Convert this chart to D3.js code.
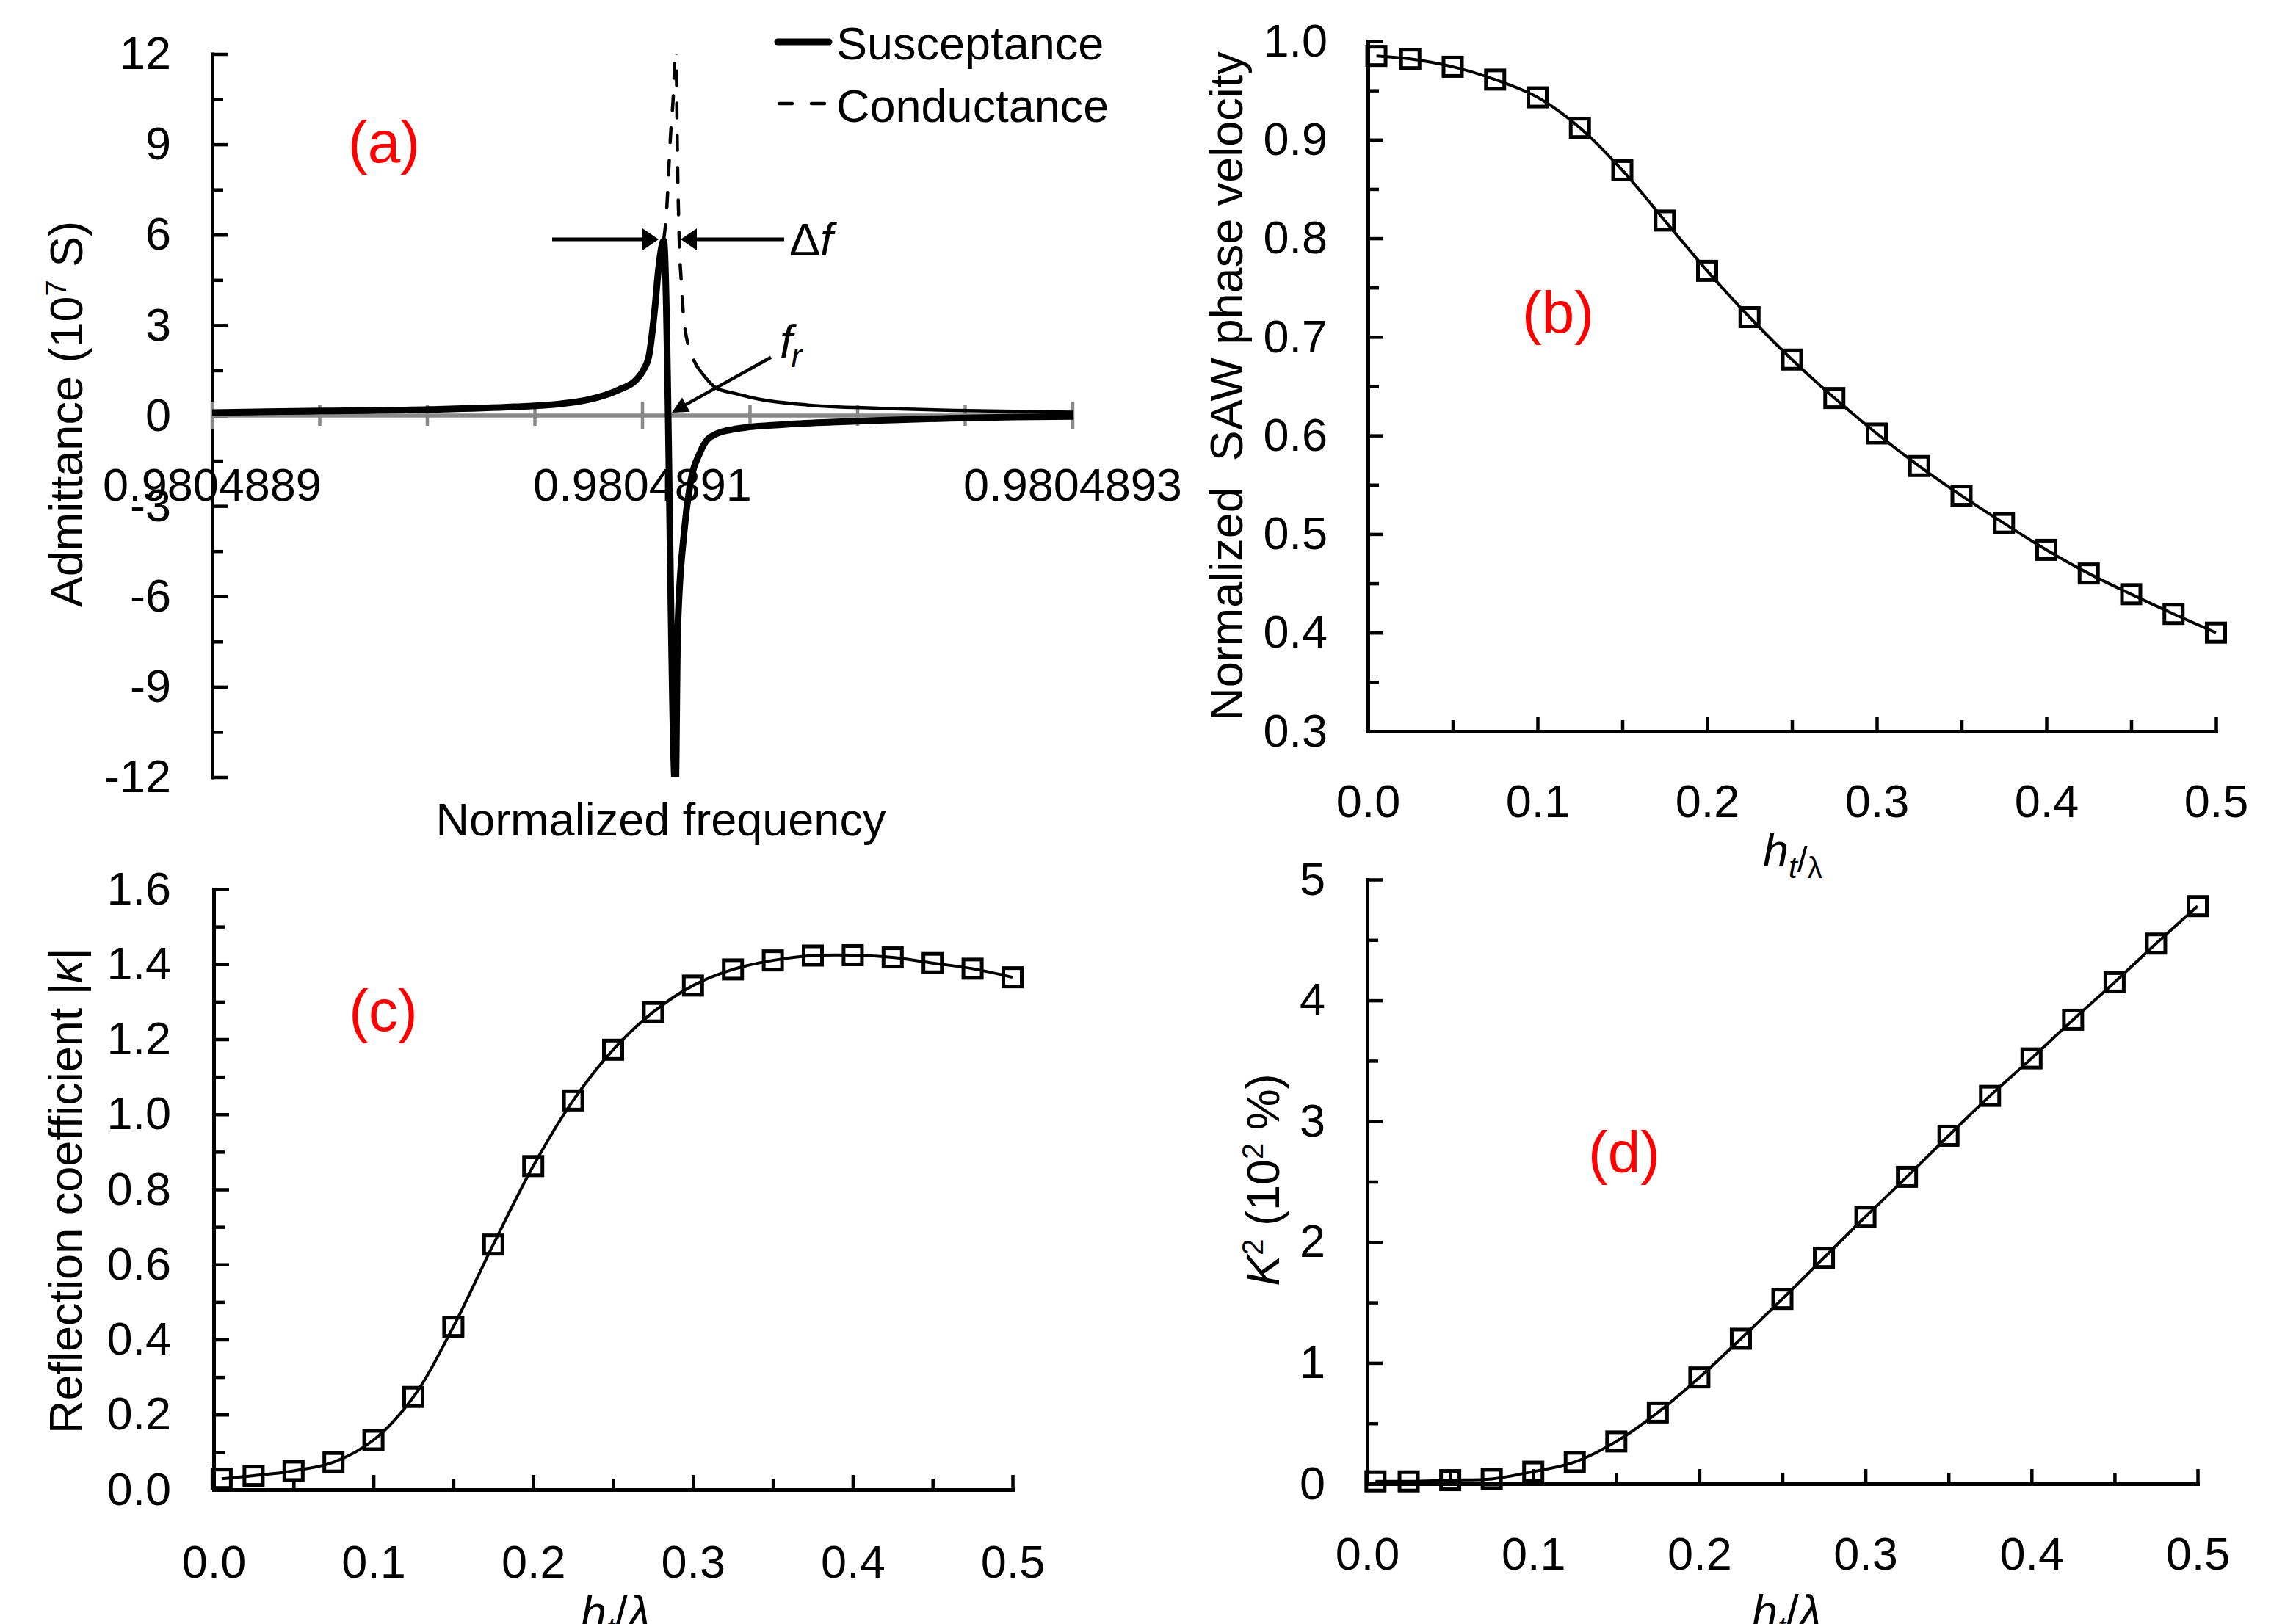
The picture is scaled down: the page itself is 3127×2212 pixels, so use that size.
<!DOCTYPE html>
<html>
<head>
<meta charset="utf-8">
<script src="https://cdn.jsdelivr.net/npm/d3@7"></script>
<style>
  html,body{margin:0;padding:0;background:#fff;}
  svg{display:block;}
</style>
</head>
<body>
<svg id="chart" width="3127" height="2212"></svg>
<script>
// ---------------- DATA ----------------
// Panel (a): admittance vs normalized frequency
const susFreq = [0.98048890000,0.98048895051,0.98048900068,0.98048904027,0.98048906075,0.98048907440,
  0.98048908908,0.98048909727,0.98048910034,0.98048910307,0.98048910444,0.98048910580,0.98048910751,
  0.98048910990,0.98048911536,0.98048911638,0.98048911932,0.98048912218,0.98048912662,0.98048913140,
  0.98048914266,0.98048916553,0.98048918805,0.98048921092,0.98048924266,0.98048927235,0.98048930000];
const susceptance = [0.10,0.15,0.20,0.29,0.38,0.52,0.86,1.20,1.50,2.00,2.70,3.60,4.90,5.80,-12.5,-7.1,
  -3.9,-2.28,-1.25,-0.72,-0.45,-0.30,-0.22,-0.16,-0.09,-0.05,-0.03];
const conFreq = [0.98048890000,0.98048900068,0.98048906075,0.98048908908,0.98048910034,0.98048910444,
  0.98048910683,0.98048910853,0.98048910990,0.98048911092,0.98048911297,0.98048911502,0.98048911553,
  0.98048911590,0.98048911706,0.98048911809,0.98048911935,0.98048912321,0.98048912730,0.98048913413,
  0.98048914266,0.98048915392,0.98048917679,0.98048921092,0.98048924505,0.98048930000];
const conductance = [0.07,0.17,0.35,0.80,1.45,2.55,4.10,5.20,5.85,6.50,9.20,11.90,14.0,10.80,5.90,4.40,
  3.10,1.96,1.44,0.92,0.74,0.55,0.35,0.24,0.17,0.11];
const admMajorTicks = [-12,-9,-6,-3,0,3,6,9,12];
const admMinorTicks = [-10.5,-7.5,-4.5,-1.5,1.5,4.5,7.5,10.5];
const freqMajorTicks = [0.9804889,0.9804891,0.9804893];
const freqTickLabels = ["0.9804889","0.9804891","0.9804893"];
const freqMinorTicks = [0.98048895,0.9804890,0.98048905,0.98048915,0.9804892,0.98048925];
const seriesNames = ["Susceptance","Conductance"];

// Panels (b), (c), (d): vs thickness ratio
const thickness = [0.005,0.025,0.05,0.075,0.1,0.125,0.15,0.175,0.2,0.225,0.25,0.275,0.3,0.325,0.35,
  0.375,0.4,0.425,0.45,0.475,0.5];
const velocity = [0.985,0.982,0.974,0.961,0.943,0.912,0.869,0.818,0.767,0.720,0.677,0.638,0.602,0.569,
  0.539,0.511,0.484,0.460,0.439,0.419,0.400];
const reflection = [0.029,0.037,0.050,0.073,0.132,0.247,0.434,0.653,0.862,1.037,1.172,1.272,1.343,1.386,
  1.410,1.423,1.424,1.418,1.403,1.388,1.365];
const coupling = [0.02,0.02,0.03,0.04,0.10,0.18,0.35,0.59,0.88,1.20,1.53,1.87,2.21,2.54,2.88,3.21,3.52,
  3.84,4.15,4.47,4.78];
const hMajorTicks = [0,0.1,0.2,0.3,0.4,0.5];
const hMinorTicks = [0.05,0.15,0.25,0.35,0.45];
const velMajorTicks = [0.3,0.4,0.5,0.6,0.7,0.8,0.9,1.0];
const velMinorTicks = [0.35,0.45,0.55,0.65,0.75,0.85,0.95];
const reflMajorTicks = [0,0.2,0.4,0.6,0.8,1.0,1.2,1.4,1.6];
const reflMinorTicks = [0.1,0.3,0.5,0.7,0.9,1.1,1.3,1.5];
const kMajorTicks = [0,1,2,3,4,5];
const kMinorTicks = [0.5,1.5,2.5,3.5,4.5];

// ---------------- RENDER ----------------
const FONT = '"Liberation Sans", Arial, Helvetica, sans-serif';
const FS = 63;
const svg = d3.select("#chart");
svg.append("rect").attr("width",3127).attr("height",2212).attr("fill","#fff");

function yAxis(x, scale, major, minor, fmt, pad) {
  const g = svg.append("g").attr("transform", `translate(${x},0)`);
  g.append("g").call(d3.axisLeft(scale).tickValues(minor).tickSize(-15).tickSizeOuter(0).tickFormat(""))
    .call(s => s.select(".domain").remove());
  g.append("g").call(d3.axisLeft(scale).tickValues(major).tickSize(-21).tickSizeOuter(0).tickPadding(pad).tickFormat(fmt));
  style(g);
  return g;
}
function xAxis(y, scale, major, minor, fmt, pad) {
  const g = svg.append("g").attr("transform", `translate(0,${y})`);
  g.append("g").call(d3.axisBottom(scale).tickValues(minor).tickSize(-15).tickSizeOuter(0).tickFormat(""))
    .call(s => s.select(".domain").remove());
  g.append("g").call(d3.axisBottom(scale).tickValues(major).tickSize(-20).tickSizeOuter(0).tickPadding(pad).tickFormat(fmt));
  style(g);
  return g;
}
function style(g) {
  g.selectAll("g").attr("font-family", FONT).attr("font-size", FS).attr("fill", null);
  g.selectAll("line").attr("stroke", "#000").attr("stroke-width", 4.5);
  g.selectAll(".domain").attr("stroke", "#000").attr("stroke-width", 5).attr("stroke-linecap", "square");
  g.selectAll("text").attr("fill", "#000");
}
function rotTitle(x, y, build) {
  const t = svg.append("text").attr("transform", `translate(${x},${y}) rotate(-90)`)
    .attr("text-anchor", "middle").attr("font-family", FONT).attr("font-size", FS).attr("fill", "#000");
  build(t);
  return t;
}
function panelLabel(x, y, s) {
  svg.append("text").attr("x", x).attr("y", y).attr("text-anchor", "middle")
    .attr("font-family", FONT).attr("font-size", 80).attr("fill", "#ff0000").text(s);
}
function arrowHead(tx, ty, fx, fy, len, hw) {
  const dx = tx - fx, dy = ty - fy, L = Math.hypot(dx, dy);
  const ux = dx / L, uy = dy / L;
  const bx = tx - ux * len, by = ty - uy * len;
  return [[tx, ty], [bx - uy * hw, by + ux * hw], [bx + uy * hw, by - ux * hw]].map(p => p.join(",")).join(" ");
}

// ---------- Panel (a) ----------
const xA = d3.scaleLinear([0.9804889, 0.9804893], [289, 1461]);
const yA = d3.scaleLinear([-12, 12], [1058.5, 73.5]);
svg.append("clipPath").attr("id", "clipA").append("rect")
  .attr("x", 289).attr("y", 73.5).attr("width", 1461 - 289).attr("height", 1058.5 - 73.5);

yAxis(289, yA, admMajorTicks, admMinorTicks, d => String(d), 56);

// gray horizontal axis at zero
const gx = svg.append("g");
const y0 = yA(0);
gx.append("line").attr("x1", xA(0.9804889)).attr("x2", xA(0.9804893)).attr("y1", y0).attr("y2", y0)
  .attr("stroke", "#898989").attr("stroke-width", 5.5);
gx.selectAll(".mn").data(freqMinorTicks).join("line")
  .attr("x1", d => xA(d)).attr("x2", d => xA(d)).attr("y1", y0 - 14).attr("y2", y0 + 14)
  .attr("stroke", "#898989").attr("stroke-width", 4.5);
gx.selectAll(".mj").data(freqMajorTicks).join("line")
  .attr("x1", d => xA(d)).attr("x2", d => xA(d)).attr("y1", y0 - 19).attr("y2", y0 + 18)
  .attr("stroke", "#898989").attr("stroke-width", 4.5);
svg.append("g").selectAll("text").data(freqMajorTicks).join("text")
  .attr("x", d => xA(d)).attr("y", 682).attr("text-anchor", "middle")
  .attr("font-family", FONT).attr("font-size", FS).attr("fill", "#000")
  .text((d, i) => freqTickLabels[i]);

const plotA = svg.append("g").attr("clip-path", "url(#clipA)");
const lineA = d3.line().curve(d3.curveMonotoneX).x(d => xA(d[0])).y(d => yA(d[1]));
const conPts = conFreq.map((f, i) => [f, conductance[i]]);
const susPts = susFreq.map((f, i) => [f, susceptance[i]]);
// conductance: dashed through the steep resonance, solid where points are dense
const fDashStart = 0.98048910990, fDashEnd = 0.98048912730;
const conLeft = conPts.filter(p => p[0] <= fDashStart);
const conMid = conPts.filter(p => p[0] >= fDashStart && p[0] <= fDashEnd);
const conRight = conPts.filter(p => p[0] >= fDashEnd);
plotA.append("path").attr("d", lineA(conLeft)).attr("fill", "none").attr("stroke", "#000").attr("stroke-width", 4.5);
plotA.append("path").attr("d", lineA(conMid)).attr("fill", "none").attr("stroke", "#000").attr("stroke-width", 4.5)
  .attr("stroke-dasharray", "20,24").attr("stroke-linecap", "round");
plotA.append("path").attr("d", lineA(conRight)).attr("fill", "none").attr("stroke", "#000").attr("stroke-width", 4.5)
  .attr("stroke-linecap", "round");
plotA.append("path").attr("d", lineA(susPts)).attr("fill", "none").attr("stroke", "#000").attr("stroke-width", 9)
  .attr("stroke-linejoin", "round");

// annotations: delta f
const afY = yA(5.85);
const lA0 = xA(0.98048905802), lA1 = xA(0.98048910751);
const rA0 = xA(0.98048916587), rA1 = xA(0.98048911775);
svg.append("line").attr("x1", lA0).attr("x2", lA1 - 10).attr("y1", afY).attr("y2", afY).attr("stroke", "#000").attr("stroke-width", 5);
svg.append("polygon").attr("points", arrowHead(lA1, afY, lA0, afY, 22, 15)).attr("fill", "#000");
svg.append("line").attr("x1", rA0).attr("x2", rA1 + 10).attr("y1", afY).attr("y2", afY).attr("stroke", "#000").attr("stroke-width", 5);
svg.append("polygon").attr("points", arrowHead(rA1, afY, rA0, afY, 22, 15)).attr("fill", "#000");
const dfT = svg.append("text").attr("x", rA0 + 7).attr("y", afY + 22)
  .attr("font-family", FONT).attr("font-size", FS).attr("fill", "#000");
dfT.append("tspan").text("Δ");
dfT.append("tspan").attr("font-style", "italic").text("f");
// f_r
const frX0 = xA(0.98048915973), frY0 = yA(1.93), frX1 = xA(0.98048911365), frY1 = yA(0.10);
svg.append("line").attr("x1", frX0).attr("y1", frY0).attr("x2", frX1 + 14).attr("y2", frY1 - 8)
  .attr("stroke", "#000").attr("stroke-width", 4.5);
svg.append("polygon").attr("points", arrowHead(frX1, frY1, frX0, frY0, 22, 11)).attr("fill", "#000");
const frT = svg.append("text").attr("x", frX0 + 12).attr("y", frY0).attr("font-family", FONT)
  .attr("font-size", FS).attr("font-style", "italic").attr("fill", "#000");
frT.append("tspan").text("f");
frT.append("tspan").attr("font-size", 44).attr("dy", 13).attr("dx", -2).text("r");

// legend
const lg = svg.append("g");
lg.append("line").attr("x1", 1059).attr("x2", 1129).attr("y1", 57).attr("y2", 57)
  .attr("stroke", "#000").attr("stroke-width", 9).attr("stroke-linecap", "round");
lg.append("line").attr("x1", 1061).attr("x2", 1124).attr("y1", 141).attr("y2", 141)
  .attr("stroke", "#000").attr("stroke-width", 4.5).attr("stroke-linecap", "round").attr("stroke-dasharray", "18,26");
lg.selectAll("text").data(seriesNames).join("text")
  .attr("x", 1139).attr("y", (d, i) => 81 + i * 85)
  .attr("font-family", FONT).attr("font-size", FS).attr("fill", "#000").text(d => d);

// titles (a)
rotTitle(112, 564, t => {
  t.append("tspan").text("Admittance (10");
  t.append("tspan").attr("font-size", 40).attr("dy", -22).text("7");
  t.append("tspan").attr("dy", 22).text(" S)");
});
svg.append("text").attr("x", 900).attr("y", 1138).attr("text-anchor", "middle")
  .attr("font-family", FONT).attr("font-size", FS).attr("fill", "#000").text("Normalized frequency");
panelLabel(523, 221, "(a)");

// ---------- generic h/λ panels ----------
function hPanel(cfg) {
  const x = d3.scaleLinear([0, 0.5], cfg.xr);
  const y = d3.scaleLinear(cfg.yd, cfg.yr);
  yAxis(cfg.xr[0], y, cfg.yMajor, cfg.yMinor, cfg.yFmt, cfg.yPad);
  xAxis(cfg.yr[0], x, hMajorTicks, hMinorTicks, d3.format(".1f"), cfg.xPad);
  const pts = thickness.map((h, i) => [h, cfg.values[i]]);
  svg.append("path").attr("d", d3.line().curve(d3.curveCatmullRom.alpha(0.5)).x(d => x(d[0])).y(d => y(d[1]))(pts))
    .attr("fill", "none").attr("stroke", "#000").attr("stroke-width", 4);
  svg.append("g").selectAll("rect").data(pts).join("rect")
    .attr("x", d => x(d[0]) - 12.5).attr("y", d => y(d[1]) - 12.5).attr("width", 25).attr("height", 25)
    .attr("fill", "none").attr("stroke", "#000").attr("stroke-width", 5);
  return { x, y };
}

// (b)
hPanel({ xr: [1863, 3018], yd: [0.3, 1.0], yr: [996, 56], yMajor: velMajorTicks, yMinor: velMinorTicks,
  yFmt: d3.format(".1f"), yPad: 55, xPad: 72, values: velocity });
rotTitle(1692, 526, t => t.text("Normalized\u00a0 SAW phase velocity"));
{
  const t = svg.append("text").attr("x", 2401).attr("y", 1180).attr("font-family", FONT).attr("font-size", FS).attr("fill", "#000");
  t.append("tspan").attr("font-style", "italic").text("h");
  t.append("tspan").attr("font-style", "italic").attr("font-size", 42).attr("dy", 16).text("t");
  t.append("tspan").attr("font-size", 50).attr("dy", -8).text("/");
  t.append("tspan").attr("font-size", 40).attr("dy", 8).text("λ");
}
panelLabel(2122, 453, "(b)");

// (c)
hPanel({ xr: [291, 1379], yd: [0, 1.6], yr: [2029, 1211], yMajor: reflMajorTicks, yMinor: reflMinorTicks,
  yFmt: d3.format(".1f"), yPad: 58, xPad: 75, values: reflection });
rotTitle(111, 1622, t => {
  t.append("tspan").text("Reflection coefficient |");
  t.append("tspan").attr("font-style", "italic").text("κ");
  t.append("tspan").text("|");
});
{
  const t = svg.append("text").attr("x", 791).attr("y", 2218).attr("font-family", FONT).attr("font-size", FS).attr("fill", "#000");
  t.append("tspan").attr("font-style", "italic").text("h");
  t.append("tspan").attr("font-style", "italic").attr("font-size", 40).attr("dy", 14).text("t");
  t.append("tspan").attr("dy", -14).text("/");
  t.append("tspan").attr("font-style", "italic").text("λ");
}
panelLabel(522, 1404, "(c)");

// (d)
hPanel({ xr: [1862, 2993], yd: [0, 5], yr: [2021, 1198], yMajor: kMajorTicks, yMinor: kMinorTicks,
  yFmt: d => String(d), yPad: 57, xPad: 72, values: coupling });
rotTitle(1742, 1607, t => {
  t.append("tspan").attr("font-style", "italic").text("K");
  t.append("tspan").attr("font-size", 40).attr("dy", -22).text("2");
  t.append("tspan").attr("dy", 22).text(" (10");
  t.append("tspan").attr("font-size", 40).attr("dy", -22).text("2");
  t.append("tspan").attr("dy", 22).text(" %)");
});
{
  const t = svg.append("text").attr("x", 2386).attr("y", 2217).attr("font-family", FONT).attr("font-size", FS).attr("fill", "#000");
  t.append("tspan").attr("font-style", "italic").text("h");
  t.append("tspan").attr("font-style", "italic").attr("font-size", 40).attr("dy", 14).text("t");
  t.append("tspan").attr("dy", -14).text("/");
  t.append("tspan").attr("font-style", "italic").text("λ");
}
panelLabel(2212, 1597, "(d)");
</script>
</body>
</html>
